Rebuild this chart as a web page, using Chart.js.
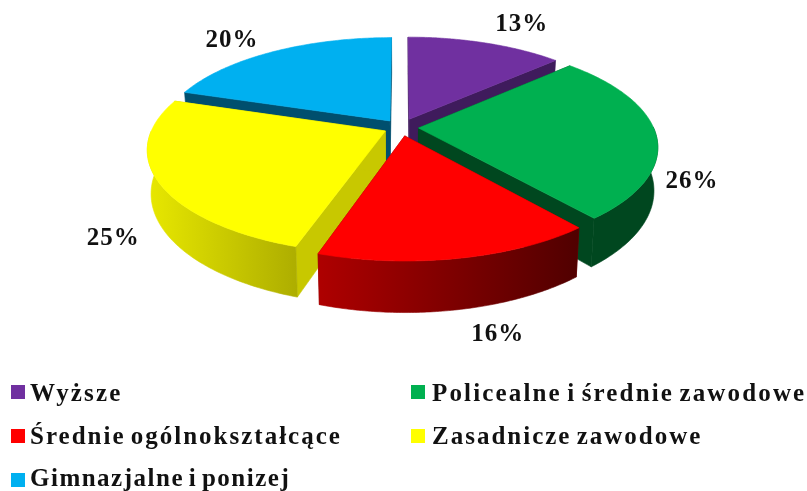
<!DOCTYPE html>
<html lang="pl">
<head>
<meta charset="utf-8">
<script src="https://cdn.jsdelivr.net/npm/chart.js@4"></script>
<style>
html,body{margin:0;padding:0;background:#fff;overflow:hidden}
#wrap{position:relative;width:807px;height:491px}
canvas{position:absolute;left:0;top:0}
.sw{position:absolute;width:14px;height:14px}
.lb{position:absolute;font:bold 25px/28px "Liberation Serif",serif;color:#111;white-space:nowrap;word-spacing:-3px}
</style>
</head>
<body>
<div id="wrap"><canvas id="c" width="807" height="491"></canvas></div>
<script>
const categories = ['Wyższe','Policealne i średnie zawodowe','Średnie ogólnokształcące','Zasadnicze zawodowe','Gimnazjalne i ponizej'];
const values = [13,26,16,25,20];
const colors = ['#7030A0','#00B050','#FF0000','#FFFF00','#00B0F0'];
const innerWall = ['#3F1B5C','#00471F','#8A0000','#C8C800','#004F6E'];
const outerFrom = ['#4A2070','#00471F','#AE0000','#E8E800','#005F80'];
const outerTo = ['#3A1858','#00471F','#500000','#AEAE00','#004560'];
const drawOrder = [4,0,1,3,2];
const sliceOffset = [21,17.5,19.5,17.5,19];
const sliceRadius = [.97,1,.99,.99,.98];
const labelNudge = [[35,-17],[36,47],[39,76],[-42,57],[-40,-10]];
const legendSlots = [[11,385,30,379,2.15],[411,385,432,379,2.15],[11,429,30,422,2],[411,429,432,422,2],[11,473,30,464,1.5]];

const TARGET_R = 235, TILT = .432, PERSP = 1360, DEPTH = 42, SHRINK = .985;

const pie3d = {
  id:'pie3d',
  beforeDatasetDraw(chart){
    const ctx = chart.ctx, arcs = chart.getDatasetMeta(0).data;
    const CX = arcs[0].x - 2.5, CY = arcs[0].y - 118;
    const k = TARGET_R / arcs[0].outerRadius;
    const top = (u,v)=>{const s=1/(1-v/PERSP);return [CX+u*s,CY+TILT*v*s,s];};
    const bot = (u,v)=>{const p=top(u,v);return [CX+(p[0]-CX)*SHRINK,p[1]+DEPTH*p[2]];};
    const poly = (pts,fill)=>{ctx.beginPath();pts.forEach((p,i)=>i?ctx.lineTo(p[0],p[1]):ctx.moveTo(p[0],p[1]));ctx.closePath();ctx.fillStyle=fill;ctx.fill();ctx.strokeStyle=fill;ctx.lineWidth=.6;ctx.stroke();};
    drawOrder.forEach(i=>{
      const a = arcs[i], mid=(a.startAngle+a.endAngle)/2, e=a.options.offset*k, R=TARGET_R*sliceRadius[i];
      const ox=Math.cos(mid)*e, oy=Math.sin(mid)*e;
      const rim=[], front=[];
      for(let j=0;j<=90;j++){
        const t=a.startAngle+(a.endAngle-a.startAngle)*j/90;
        const p=[ox+Math.cos(t)*R,oy+Math.sin(t)*R];
        rim.push(p);
        if(Math.sin(t)>-0.01) front.push(p);
      }
      const rimT=rim.map(p=>top(p[0],p[1])), rimB=rim.map(p=>bot(p[0],p[1]));
      const at=top(ox,oy), ab=bot(ox,oy), n=rim.length-1;
      poly([at,rimT[0],rimB[0],ab],innerWall[i]);
      poly([at,rimT[n],rimB[n],ab],innerWall[i]);
      if(front.length>1){
        const fT=front.map(p=>top(p[0],p[1])), fB=front.map(p=>bot(p[0],p[1]));
        const xs=fT.map(p=>p[0]), g=ctx.createLinearGradient(Math.min(...xs),0,Math.max(...xs),0);
        g.addColorStop(0,outerFrom[i]);g.addColorStop(1,outerTo[i]);
        poly(fT.concat(fB.slice().reverse()),g);
      }
      poly([at].concat(rimT),colors[i]);
    });
    ctx.save();
    ctx.font='bold 25px "Liberation Serif",serif';ctx.letterSpacing='1px';ctx.fillStyle='#111';ctx.textAlign='center';ctx.textBaseline='middle';
    arcs.forEach((a,i)=>{
      const mid=(a.startAngle+a.endAngle)/2, r=TARGET_R+17.5*k;
      const p=top(Math.cos(mid)*r,Math.sin(mid)*r);
      ctx.fillText(values[i]+'%',p[0]+labelNudge[i][0],p[1]+labelNudge[i][1]);
    });
    ctx.restore();
    return false;
  }
};

new Chart(document.getElementById('c'),{
  type:'pie',
  data:{labels:categories,datasets:[{data:values,backgroundColor:colors,borderWidth:0,offset:sliceOffset}]},
  options:{responsive:false,animation:false,layout:{padding:0},plugins:{legend:{display:false},tooltip:{enabled:false}}},
  plugins:[pie3d]
});

const wrap=document.getElementById('wrap');
categories.forEach((name,i)=>{
  const s=document.createElement('div');s.className='sw';s.style.left=legendSlots[i][0]+'px';s.style.top=legendSlots[i][1]+'px';s.style.background=colors[i];wrap.appendChild(s);
  const l=document.createElement('div');l.className='lb';l.textContent=name;l.style.left=legendSlots[i][2]+'px';l.style.top=legendSlots[i][3]+'px';l.style.letterSpacing=legendSlots[i][4]+'px';wrap.appendChild(l);
});
</script>
</body>
</html>
